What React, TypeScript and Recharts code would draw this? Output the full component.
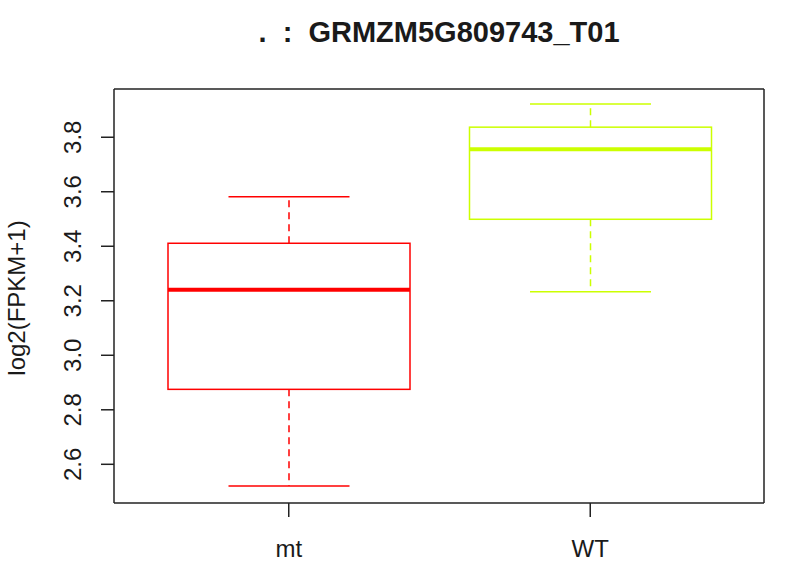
import React from "react";
import { ComposedChart, Bar, XAxis, YAxis } from "recharts";

// ---- data ----
const groups = ["mt", "WT"];
const mins = [2.52, 3.233];
const q1s = [2.875, 3.499];
const medians = [3.24, 3.756];
const q3s = [3.411, 3.837];
const maxs = [3.582, 3.922];
const colors = ["#FF0000", "#CCFF00"];
const yTicks = [2.6, 2.8, 3.0, 3.2, 3.4, 3.6, 3.8];
const yDomain: [number, number] = [2.458, 3.977];
const titleText = ".  :  GRMZM5G809743_T01";
const yLabel = "log2(FPKM+1)";

const data = groups.map((g, i) => ({
  group: g,
  min: mins[i],
  q1: q1s[i],
  median: medians[i],
  q3: q3s[i],
  max: maxs[i],
  color: colors[i],
}));

const FONT = "'Liberation Sans', Arial, Helvetica, sans-serif";
const INK = "#1a1a1a";

const BoxShape = (props: any) => {
  const { x, width, payload } = props;
  let { y, height } = props;
  if (height < 0) {
    y = y + height;
    height = -height;
  }
  const { min, q1, median, q3, max, color } = payload;
  const toPx = (v: number) => y + ((max - v) / (max - min)) * height;
  const cx = x + width / 2;
  const capHalf = width / 4;
  const yMax = toPx(max);
  const yMin = toPx(min);
  const yQ1 = toPx(q1);
  const yQ3 = toPx(q3);
  const yMed = toPx(median);
  return (
    <g>
      <line x1={cx} x2={cx} y1={yQ3} y2={yMax} stroke={color} strokeWidth={1.5} strokeDasharray="7 5" />
      <line x1={cx} x2={cx} y1={yQ1} y2={yMin} stroke={color} strokeWidth={1.5} strokeDasharray="7 5" />
      <line x1={cx - capHalf} x2={cx + capHalf} y1={yMax} y2={yMax} stroke={color} strokeWidth={1.5} />
      <line x1={cx - capHalf} x2={cx + capHalf} y1={yMin} y2={yMin} stroke={color} strokeWidth={1.5} />
      <rect x={x} y={yQ3} width={width} height={yQ1 - yQ3} fill="none" stroke={color} strokeWidth={1.5} />
      <line x1={x} x2={x + width} y1={yMed} y2={yMed} stroke={color} strokeWidth={4} />
    </g>
  );
};

const YTick = (props: any) => {
  const { x, y, payload } = props;
  return (
    <text
      x={x}
      y={y}
      transform={`rotate(-90 ${x} ${y})`}
      textAnchor="middle"
      fontFamily={FONT}
      fontSize={24}
      fill={INK}
    >
      {Number(payload.value).toFixed(1)}
    </text>
  );
};

const XTick = (props: any) => {
  const { x, y, payload } = props;
  return (
    <text x={x} y={y} textAnchor="middle" fontFamily={FONT} fontSize={24} fill={INK}>
      {payload.value}
    </text>
  );
};

export default function App() {
  return (
    <div style={{ position: "absolute", left: 0, top: 0, width: 805, height: 584, background: "#fff" }}>
      <ComposedChart
        width={805}
        height={584}
        data={data}
        margin={{ top: 88, right: 40, bottom: 24, left: 0 }}
      >
        <XAxis
          dataKey="group"
          type="category"
          padding={{ left: 24, right: 23 }}
          height={57}
          tickSize={14}
          tickMargin={40}
          tick={<XTick />}
          axisLine={{ stroke: "#222", strokeWidth: 1.5 }}
          tickLine={{ stroke: "#222", strokeWidth: 1.5 }}
        />
        <XAxis
          xAxisId="top"
          dataKey="group"
          orientation="top"
          height={1}
          tick={false}
          tickLine={false}
          axisLine={{ stroke: "#222", strokeWidth: 1.5 }}
        />
        <YAxis
          type="number"
          domain={yDomain}
          ticks={yTicks}
          allowDataOverflow
          width={114}
          tickSize={13}
          tickMargin={20}
          tick={<YTick />}
          axisLine={{ stroke: "#222", strokeWidth: 1.5 }}
          tickLine={{ stroke: "#222", strokeWidth: 1.5 }}
        />
        <YAxis
          yAxisId="right"
          orientation="right"
          width={1}
          tick={false}
          tickLine={false}
          axisLine={{ stroke: "#222", strokeWidth: 1.5 }}
        />
        <Bar
          dataKey={(d: any) => [d.min, d.max]}
          barSize={242}
          shape={<BoxShape />}
          isAnimationActive={false}
        />
      </ComposedChart>
      <svg
        width={805}
        height={584}
        style={{ position: "absolute", left: 0, top: 0, pointerEvents: "none" }}
      >
        <text
          x={439}
          y={42}
          textAnchor="middle"
          fontFamily={FONT}
          fontSize={29}
          fontWeight="bold"
          fill={INK}
          style={{ whiteSpace: "pre" }}
        >
          {titleText}
        </text>
        <text
          x={24.5}
          y={298}
          transform="rotate(-90 24.5 298)"
          textAnchor="middle"
          fontFamily={FONT}
          fontSize={24}
          fill={INK}
        >
          {yLabel}
        </text>
      </svg>
    </div>
  );
}
